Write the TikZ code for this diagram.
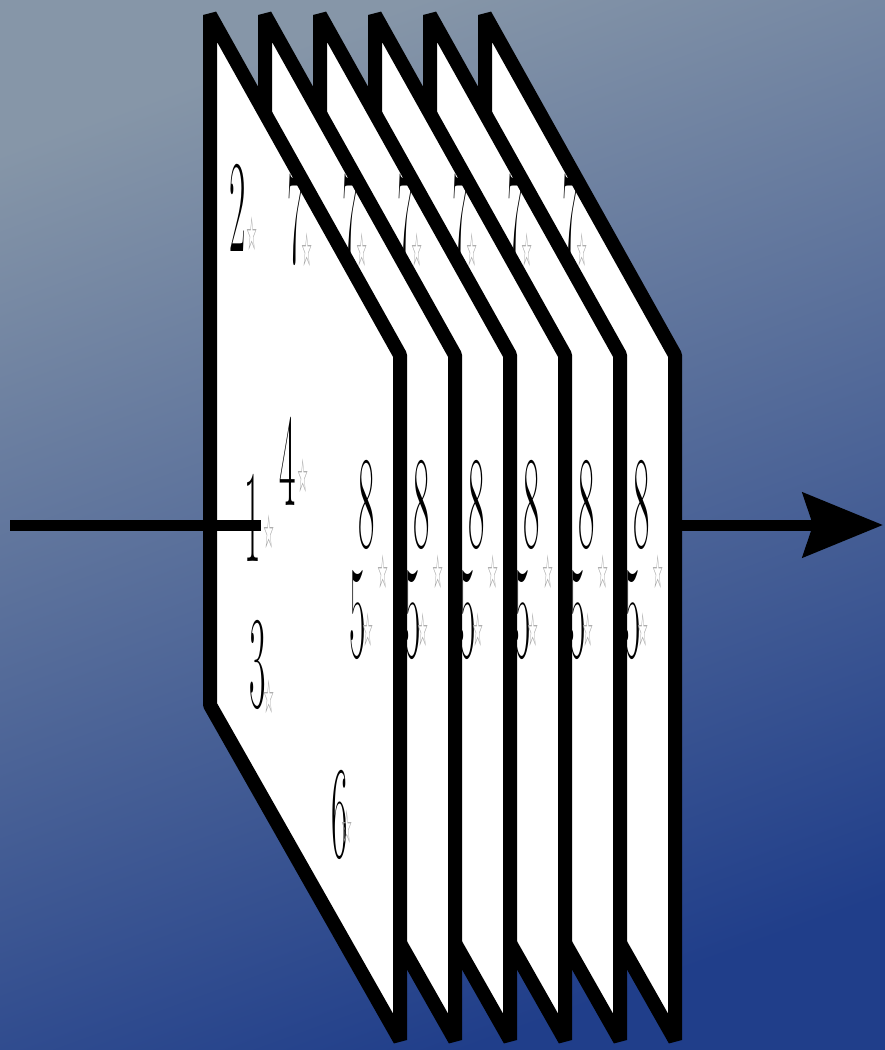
\documentclass[tikz,border=0pt]{standalone}
\usepackage{fontspec}
\usepackage{graphicx}
\newfontfamily\symfont{DejaVu Sans}
\usetikzlibrary{arrows.meta}
\definecolor{bgtop}{HTML}{8696A8}
\definecolor{bgbot}{HTML}{203E8A}
\definecolor{stargray}{HTML}{A0A0A0}
\tikzset{
  sheet/.style={draw=black, fill=white, line width=14pt, line join=bevel},
  digit/.style={inner sep=0pt, text=black},
  starmark/.style={inner sep=0pt, text=stargray},
  flow/.style={draw=black, line width=11pt},
}
\newcommand{\dg}[1]{\scalebox{0.27}[1]{\fontsize{132}{132}\selectfont #1}}
\newcommand{\stm}{\scalebox{0.35}[1.3]{\symfont\fontsize{36}{36}\selectfont ☆}}
\begin{document}
\begin{tikzpicture}[x=1pt,y=-1pt]
\useasboundingbox (0,0) rectangle (885,1050);
\shade[top color=bgtop, bottom color=bgbot, shading angle=20] (0,0) rectangle (885,1050);
\coordinate (in) at (10,525);
\coordinate (b) at (677,525);
\coordinate (out) at (883,525);
\draw[flow,-{Stealth[length=80pt,width=64pt,inset=10pt]}] (b) -- (out);
\foreach \k in {5,4,...,0}{
  \pgfmathsetmacro{\xo}{210+55*\k}
  \begin{scope}[xshift=\xo pt]
    \path[sheet] (0,15) -- (0,705) -- (190,1040) -- (190,355) -- cycle;
    \node[digit] (two-\k) at (28,208) {\dg{2}};
    \node[starmark] at (42,234) {\stm};
    \node[digit] (seven-\k) at (86,220) {\dg{7}};
    \node[starmark] at (97,250) {\stm};
    \node[digit] (four-\k) at (78,461) {\dg{4}};
    \node[starmark] at (93,476) {\stm};
    \node[digit] (one-\k) at (43,518) {\dg{1}};
    \node[starmark] at (59,532) {\stm};
    \node[digit] (eight-\k) at (157,505) {\dg{8}};
    \node[starmark] at (173,572) {\stm};
    \node[digit] (five-\k) at (148,615) {\dg{5}};
    \node[starmark] at (158,630) {\stm};
    \node[digit] (three-\k) at (48,665) {\dg{3}};
    \node[starmark] at (59,697) {\stm};
    \node[digit] (six-\k) at (130,815) {\dg{6}};
    \node[starmark] at (137,827) {\stm};
  \end{scope}
}
\draw[flow] (in) -- (in -| one-0.east);
\end{tikzpicture}
\end{document}
